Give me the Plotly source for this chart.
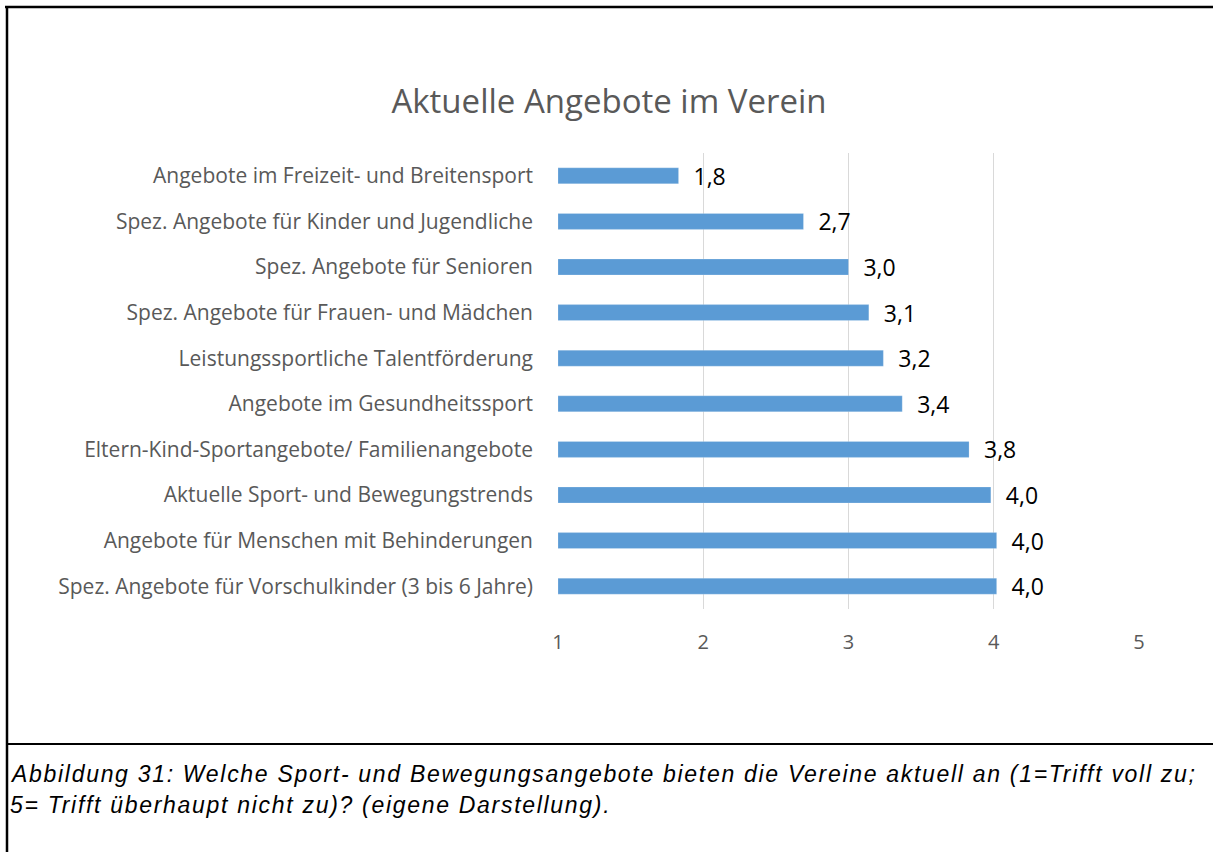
import plotly.graph_objects as go

categories = [
    "Angebote im Freizeit- und Breitensport",
    "Spez. Angebote für Kinder und Jugendliche",
    "Spez. Angebote für Senioren",
    "Spez. Angebote für Frauen- und Mädchen",
    "Leistungssportliche Talentförderung",
    "Angebote im Gesundheitssport",
    "Eltern-Kind-Sportangebote/ Familienangebote",
    "Aktuelle Sport- und Bewegungstrends",
    "Angebote für Menschen mit Behinderungen",
    "Spez. Angebote für Vorschulkinder (3 bis 6 Jahre)",
]
values = [1.83, 2.69, 3.0, 3.14, 3.24, 3.37, 3.83, 3.98, 4.02, 4.02]
x_ticks = [1, 2, 3, 4, 5]
base_value = 1

title_text = "Aktuelle Angebote im Verein"
caption_line1 = "Abbildung 31: Welche Sport- und Bewegungsangebote bieten die Vereine aktuell an (1=Trifft voll zu;"
caption_line2 = "5= Trifft überhaupt nicht zu)? (eigene Darstellung)."

W, H = 1213, 852
L, R, T, B = 558, 74, 153, 243
pw, ph = W - L - R, H - T - B

FONT = "Open Sans"


def px_x(px):
    return (px - L) / pw


def px_y(py):
    return (H - B - py) / ph


fig = go.Figure()
fig.add_trace(go.Bar(
    y=categories,
    x=[v - base_value for v in values],
    base=base_value,
    orientation="h",
    width=0.35,
    marker=dict(color="#5B9BD5", line=dict(color="rgba(255,255,255,0.4)", width=0.5)),
    text=values,
    texttemplate="\u00a0\u00a0%{text:.1f}",
    textposition="outside",
    constraintext="none",
    cliponaxis=False,
    textfont=dict(family=FONT, size=23, color="#000000"),
    hoverinfo="skip",
))

fig.update_layout(
    width=W, height=H,
    margin=dict(l=L, r=R, t=T, b=B, pad=0),
    paper_bgcolor="white", plot_bgcolor="white",
    separators=",.",
    showlegend=False,
    title=dict(
        text=title_text,
        font=dict(family=FONT, size=33, color="#595959"),
        xref="container", yref="container",
        x=609 / W, xanchor="center",
        y=1 - 101 / H, yanchor="middle",
    ),
    xaxis=dict(
        range=[1, 5],
        tickvals=x_ticks,
        showgrid=True, gridcolor="#D9D9D9", gridwidth=1,
        zeroline=False, showline=False,
        ticks="",
        tickfont=dict(family=FONT, size=20, color="#595959"),
        ticklabelstandoff=19,
        fixedrange=True,
    ),
    yaxis=dict(
        autorange="reversed",
        showgrid=False, zeroline=False, showline=False,
        ticks="",
        tickfont=dict(family=FONT, size=21, color="#595959"),
        ticklabelstandoff=24,
        fixedrange=True,
    ),
    bargap=0.65,
)

# outer frame and divider
line_black = dict(color="black", width=2.5)
fig.add_shape(type="line", xref="paper", yref="paper",
              x0=px_x(5), x1=px_x(W), y0=px_y(7), y1=px_y(7), line=line_black)
fig.add_shape(type="line", xref="paper", yref="paper",
              x0=px_x(7), x1=px_x(7), y0=px_y(6), y1=px_y(H), line=line_black)
fig.add_shape(type="line", xref="paper", yref="paper",
              x0=px_x(7), x1=px_x(W), y0=px_y(744), y1=px_y(744),
              line=dict(color="black", width=2))

for txt, cy in [(caption_line1, 774), (caption_line2, 805)]:
    fig.add_annotation(
        text='<span style="letter-spacing:1.7px"><i>' + txt + "</i></span>",
        xref="paper", yref="paper",
        x=px_x(8), y=px_y(cy),
        xanchor="left", yanchor="middle",
        showarrow=False,
        font=dict(family="Liberation Sans", size=23, color="#000000"),
    )

fig.write_html("out.html", config={"displayModeBar": False},
               post_script="document.body.style.margin='0';")
